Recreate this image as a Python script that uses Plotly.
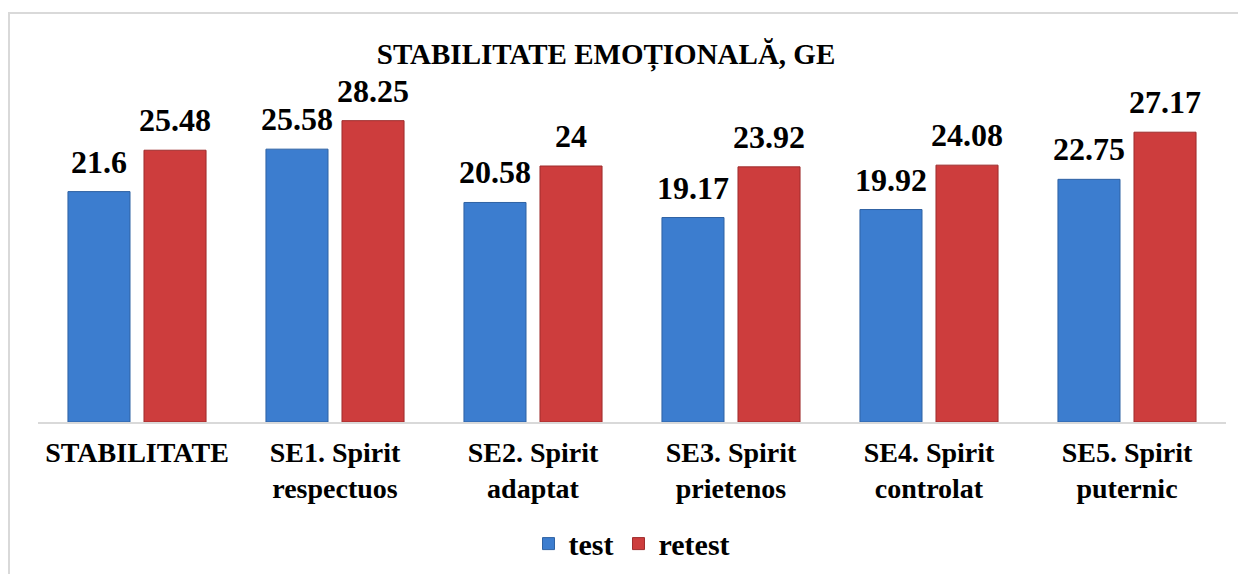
import plotly.graph_objects as go

categories = ["STABILITATE", "SE1. Spirit<br>respectuos", "SE2. Spirit<br>adaptat",
              "SE3. Spirit<br>prietenos", "SE4. Spirit<br>controlat", "SE5. Spirit<br>puternic"]
test_vals = [21.6, 25.58, 20.58, 19.17, 19.92, 22.75]
retest_vals = [25.48, 28.25, 24, 23.92, 24.08, 27.17]
test_labels = ["21.6", "25.58", "20.58", "19.17", "19.92", "22.75"]
retest_labels = ["25.48", "28.25", "24", "23.92", "24.08", "27.17"]

FONT = "Liberation Serif"
BLUE = "#3c7dcf"
RED = "#cd3d3d"

W, H = 1238, 566  # page body has an 8px margin

fig = go.Figure()
fig.add_trace(go.Bar(
    x=categories, y=test_vals, name="test",
    marker=dict(color=BLUE, line=dict(color="#2f62a3", width=1)),
))
fig.add_trace(go.Bar(
    x=categories, y=retest_vals, name="retest",
    marker=dict(color=RED, line=dict(color="#9e2c2c", width=1)),
))

# value labels placed above each bar (offset to each bar of the group)
annotations = []
for cat, v, lab in zip(categories, test_vals, test_labels):
    annotations.append(dict(x=cat, y=v, xref="x", yref="y", text=lab, showarrow=False,
                            xanchor="center", yanchor="bottom", xshift=-38, yshift=10,
                            font=dict(family=FONT, size=32, color="black", weight="bold")))
for cat, v, lab in zip(categories, retest_vals, retest_labels):
    annotations.append(dict(x=cat, y=v, xref="x", yref="y", text=lab, showarrow=False,
                            xanchor="center", yanchor="bottom", xshift=38, yshift=10,
                            font=dict(family=FONT, size=32, color="black", weight="bold")))

fig.update_layout(
    width=W, height=H,
    paper_bgcolor="white", plot_bgcolor="white",
    margin=dict(l=30, r=20, t=94, b=152, autoexpand=False),
    barmode="group", bargap=0.232, bargroupgap=0.184,
    font=dict(family=FONT, color="black"),
    title=dict(text="STABILITATE EMOȚIONALĂ, GE", x=598 / W, xref="container",
               y=1 - 46 / H, yref="container", xanchor="center", yanchor="middle",
               font=dict(family=FONT, size=29, color="black", weight="bold")),
    showlegend=True,
    legend=dict(orientation="h", x=0.5, xanchor="center", y=-0.38, yanchor="middle",
                font=dict(family=FONT, size=30, color="black", weight="bold"),
                itemwidth=30, traceorder="normal"),
    annotations=annotations,
    shapes=[dict(type="rect", xref="paper", yref="paper",
                 x0=(1 - 30) / 1188, x1=1.05, y0=-0.7, y1=1 + (94 - 5) / 320,
                 line=dict(color="#D9D9D9", width=2), layer="below")],
)
fig.update_xaxes(showline=True, linecolor="#D9D9D9", linewidth=2, ticks="",
                 tickfont=dict(family=FONT, size=28, color="black", weight="bold"),
                 ticklabelstandoff=4, showgrid=False)
fig.update_yaxes(range=[0, 30], visible=False, showgrid=False)

fig.write_html("out.html")
